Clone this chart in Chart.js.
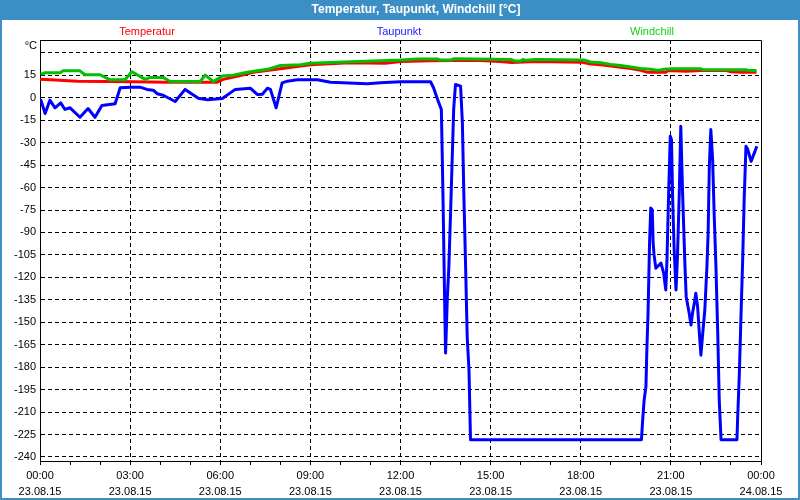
<!DOCTYPE html>
<html>
<head>
<meta charset="utf-8">
<script src="https://cdn.jsdelivr.net/npm/chart.js@4/dist/chart.umd.min.js"></script>
<style>
    html, body { margin: 0; padding: 0; background: #fff; }
    #wrap { width: 800px; height: 500px; }
</style>
</head>
<body>
<div id="wrap"><canvas id="weather_chart" width="800" height="500"></canvas></div>
<script>
// ---------------- DATA -----------------
// x values are hours since 23.08.15 00:00
const tempHours = [0, 0.5, 1.25, 3.1, 4.25, 5.9, 6.1, 6.6, 7.1, 8.0, 9.0, 10.3, 11.5, 12.0, 13.0, 14.5, 15.3, 15.7, 16.5, 18.0, 18.33, 18.67, 19.0, 19.33, 19.67, 20.0, 20.23, 20.83, 20.9, 21.5, 22.0, 22.83, 23.0, 23.33, 23.85];
const tempValues = [12.3, 11.8, 11.1, 10.7, 10.4, 10.4, 12.3, 14.5, 17.1, 19.4, 22.1, 23.4, 23.0, 24.3, 24.8, 25.0, 24.3, 23.6, 24.3, 23.8, 22.5, 22.1, 21.2, 20.3, 19.5, 18.3, 17.0, 17.0, 18.3, 17.8, 18.3, 18.3, 17.4, 17.0, 17.0];

const dewHours = [0.02, 0.17, 0.33, 0.5, 0.69, 0.83, 1.0, 1.33, 1.6, 1.83, 2.06, 2.5, 2.67, 3.0, 3.33, 3.56, 3.77, 3.9, 4.1, 4.5, 4.83, 5.27, 5.57, 6.07, 6.5, 7.0, 7.23, 7.4, 7.57, 7.67, 7.86, 8.06, 8.23, 8.57, 9.23, 9.67, 10.9, 11.33, 12.0, 13.0, 13.1, 13.27, 13.36, 13.39, 13.42, 13.47, 13.5, 13.56, 13.61, 13.67, 13.72, 13.77, 13.83, 14.0, 14.06, 14.11, 14.17, 14.22, 14.28, 14.33, 20.02, 20.06, 20.11, 20.17, 20.2, 20.24, 20.29, 20.33, 20.38, 20.41, 20.44, 20.5, 20.67, 20.76, 20.83, 20.87, 20.92, 20.98, 21.02, 21.06, 21.11, 21.17, 21.22, 21.28, 21.33, 21.39, 21.47, 21.51, 21.61, 21.67, 21.72, 21.8, 21.83, 21.89, 21.94, 22.0, 22.06, 22.13, 22.2, 22.24, 22.28, 22.33, 22.39, 22.44, 22.5, 22.56, 22.61, 22.67, 23.2, 23.22, 23.28, 23.33, 23.39, 23.44, 23.5, 23.56, 23.67, 23.78, 23.86];
const dewValues = [-1, -10.5, -1.6, -6.7, -3.4, -7.8, -6.7, -13, -7.2, -13, -5.2, -4, 6.7, 7.1, 7.1, 5.6, 5.1, 2.7, 1.7, -2.5, 5.6, -0.3, -1.3, -0.5, 5.6, 6.4, 2.2, 2.4, 6.4, 5.6, -6.7, 10, 11.1, 12, 12, 10.4, 9.4, 10, 10.7, 10.7, 6.7, -3.1, -7.8, -39, -72.6, -137, -170.6, -132.9, -112.8, -74.8, -41.3, -7.8, 8.9, 7.8, -16.7, -65.9, -115, -159.7, -182, -228.5, -228.5, -215.5, -202, -193, -168.6, -143.8, -97, -73.7, -74.8, -97, -105, -113.9, -110.5, -117.2, -128.4, -108.3, -68, -25.7, -27.9, -68, -101.7, -128.4, -106, -63.6, -19, -63.6, -112.8, -132.9, -144, -151.8, -144, -135, -130.6, -139.6, -155, -172, -157.4, -141.8, -112.8, -90.4, -45.8, -21.2, -41.3, -77, -112.8, -157.4, -202, -228.5, -228.5, -215.5, -184, -148.5, -108.3, -68, -32.4, -34.6, -42.5, -36.8, -32.4];

const chillHours = [0.02, 0.17, 0.67, 0.77, 1.33, 1.5, 2.0, 2.33, 2.83, 3.06, 3.5, 3.67, 4.1, 4.33, 5.33, 5.5, 5.77, 6.07, 6.43, 6.9, 7.57, 8.0, 8.67, 9.0, 10.33, 11.33, 12.0, 12.57, 13.23, 13.33, 13.67, 13.77, 15.67, 15.83, 16.0, 16.07, 16.17, 16.5, 18.1, 18.33, 18.67, 19.0, 19.33, 19.67, 20.0, 20.33, 20.57, 20.77, 21.0, 22.0, 22.07, 23.5, 23.57, 23.85];
const chillValues = [15.6, 16.7, 16.7, 18, 18, 15.4, 15.4, 12, 12, 17.4, 12.3, 13.6, 13.6, 10.9, 10.9, 15.1, 10.9, 14.5, 15, 17.1, 19, 21.6, 22, 23, 24.1, 24.8, 25.2, 25.9, 25.9, 25.2, 25.2, 26, 25.6, 24.5, 24.5, 25.6, 25, 25.6, 25.3, 23.9, 23.4, 22.3, 21.6, 20.6, 19.6, 19, 18.3, 19, 19.4, 19.4, 18.7, 18.7, 18.3, 18.3];

const yTicks = [30, 15, 0, -15, -30, -45, -60, -75, -90, -105, -120, -135, -150, -165, -180, -195, -210, -225, -240];
const xTickHours = [0, 3, 6, 9, 12, 15, 18, 21, 24];
const xTimeLabels = ["00:00", "03:00", "06:00", "09:00", "12:00", "15:00", "18:00", "21:00", "00:00"];
const xDateLabels = ["23.08.15", "23.08.15", "23.08.15", "23.08.15", "23.08.15", "23.08.15", "23.08.15", "23.08.15", "24.08.15"];

const chartTitle = "Temperatur, Taupunkt, Windchill [°C]";
const seriesNames = ["Temperatur", "Taupunkt", "Windchill"];
const unitLabel = "°C";

// ----------- HELPERS -------------
const toPoints = (xs, ys) => xs.map((x, i) => ({ x, y: ys[i] }));
const FONT = "'Liberation Sans', Arial, sans-serif";
const frameBlue = "#3c8fc5";

const framePlugin = {
    id: "frame",
    beforeDraw: (chart) => {
        const { ctx, width, height } = chart;
        ctx.save();
        ctx.fillStyle = "#ffffff";
        ctx.fillRect(0, 0, width, height);

        // window frame + title bar
        ctx.fillStyle = frameBlue;
        ctx.fillRect(0, 0, width, 20);
        ctx.fillRect(0, 0, 2, height);
        ctx.fillRect(width - 2, 0, 2, height);
        ctx.fillRect(0, height - 2, width, 2);

        ctx.textAlign = "center";
        ctx.textBaseline = "middle";
        ctx.fillStyle = "#ffffff";
        ctx.font = "bold 12px " + FONT;
        ctx.fillText(chartTitle, 416, 10);

        // legend
        ctx.font = "11px " + FONT;
        const legendX = [147, 399, 652];
        const legendColors = ["#ff0000", "#1a1aff", "#14d014"];
        seriesNames.forEach((name, i) => {
            ctx.fillStyle = legendColors[i];
            ctx.fillText(name, legendX[i], 32);
        });

        ctx.fillStyle = "#000000";
        ctx.textAlign = "right";
        ctx.fillText(unitLabel, 37, 46);
        ctx.restore();
    },
    afterDraw: (chart) => {
        const { ctx, chartArea } = chart;
        ctx.save();
        ctx.strokeStyle = "#000000";
        ctx.lineWidth = 1;
        ctx.beginPath();
        ctx.moveTo(Math.round(chartArea.left) + 0.5, Math.round(chartArea.top) + 0.5);
        ctx.lineTo(Math.round(chartArea.right) + 0.5, Math.round(chartArea.top) + 0.5);
        ctx.lineTo(Math.round(chartArea.right) + 0.5, Math.round(chartArea.bottom) + 0.5);
        ctx.stroke();
        ctx.restore();
    },
};

// -------------- CHART --------------
const lineDataset = (label, data, color) => ({
    label,
    data,
    borderColor: color,
    borderWidth: 3,
    pointRadius: 0,
    tension: 0,
    fill: false,
    borderJoinStyle: "round",
});

new Chart(document.getElementById("weather_chart"), {
    type: "line",
    data: {
        datasets: [
            lineDataset(seriesNames[2], toPoints(chillHours, chillValues), "#00c000"),
            lineDataset(seriesNames[0], toPoints(tempHours, tempValues), "#ff0000"),
            lineDataset(seriesNames[1], toPoints(dewHours, dewValues), "#0000ff"),
        ],
    },
    options: {
        responsive: false,
        animation: false,
        layout: { padding: { top: 40, left: 0, right: 39, bottom: 0 } },
        plugins: {
            legend: { display: false },
            title: { display: false },
            tooltip: { enabled: false },
        },
        scales: {
            x: {
                type: "linear",
                min: 0,
                max: 24,
                afterBuildTicks: (scale) => {
                    const t = [];
                    for (let h = 0; h <= 24; h++) t.push({ value: h });
                    scale.ticks = t;
                },
                afterFit: (scale) => {
                    scale.height = 39;
                },
                ticks: {
                    autoSkip: false,
                    maxRotation: 0,
                    padding: 3,
                    color: "#000000",
                    font: { family: FONT, size: 11, lineHeight: 1.45 },
                    callback: (value) => {
                        const i = xTickHours.indexOf(value);
                        return i >= 0 ? [xTimeLabels[i], xDateLabels[i]] : "";
                    },
                },
                grid: {
                    color: (c) =>
                        c.tick && c.tick.value % 3 === 0 && c.tick.value > 0 && c.tick.value < 24
                            ? "#000000"
                            : "rgba(0,0,0,0)",
                    tickColor: "#000000",
                    tickLength: 4,
                    lineWidth: 1,
                },
                border: { color: "#000000", width: 1, dash: [4, 3] },
            },
            y: {
                min: -242.7,
                max: 38.6,
                afterBuildTicks: (scale) => {
                    scale.ticks = yTicks.map((v) => ({ value: v }));
                },
                afterFit: (scale) => {
                    scale.width = 40;
                },
                ticks: {
                    autoSkip: false,
                    padding: 4,
                    color: "#000000",
                    font: { family: FONT, size: 11 },
                    callback: (value) => (value === 30 ? "" : value),
                },
                grid: {
                    color: "#000000",
                    drawTicks: false,
                    lineWidth: 1,
                },
                border: { color: "#000000", width: 1, dash: [4, 3] },
            },
        },
    },
    plugins: [framePlugin],
});
</script>
</body>
</html>
